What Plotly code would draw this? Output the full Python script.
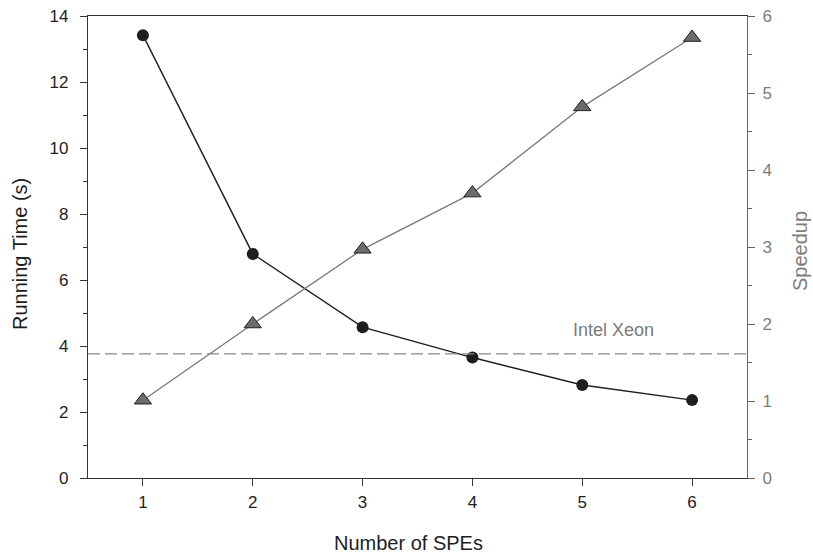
import plotly.graph_objects as go

spes = [1, 2, 3, 4, 5, 6]
running_time = [13.42, 6.79, 4.57, 3.65, 2.82, 2.36]
speedup = [1.01, 2.00, 2.97, 3.70, 4.82, 5.72]
xeon_time = 3.76
x_ticks = [1, 2, 3, 4, 5, 6]

FONT = "Liberation Sans, Arial, sans-serif"
DARK = "#1e1e1e"
GRAY = "#7d7d7d"

fig = go.Figure()
fig.add_trace(go.Scatter(
    x=spes, y=speedup, yaxis="y2", mode="lines+markers",
    line=dict(color="#7a7a7a", width=1.3),
    marker=dict(symbol="triangle-up", size=15, color="#6b6b6b",
                line=dict(color="#222222", width=1)),
    showlegend=False, cliponaxis=False))
fig.add_trace(go.Scatter(
    x=spes, y=running_time, mode="lines+markers",
    line=dict(color=DARK, width=1.4),
    marker=dict(symbol="circle", size=12, color=DARK),
    showlegend=False, cliponaxis=False))

fig.add_shape(type="line", xref="paper", x0=0, x1=1, yref="y", y0=xeon_time, y1=xeon_time,
              line=dict(color="#888888", width=1.1, dash="12px,5px"))
fig.add_annotation(x=5.28, y=4.48, xref="x", yref="y", text="Intel Xeon", showarrow=False,
                   xanchor="center", yanchor="middle",
                   font=dict(family=FONT, size=18, color="#7a7a7a"))

# axis titles
fig.add_annotation(x=0.487, y=-0.1407, xref="paper", yref="paper", text="Number of SPEs",
                   showarrow=False, xanchor="center", yanchor="middle",
                   font=dict(family=FONT, size=20, color=DARK))
fig.add_annotation(x=-0.1032, y=0.4848, xref="paper", yref="paper", text="Running Time (s)",
                   showarrow=False, textangle=-90, xanchor="center", yanchor="middle",
                   font=dict(family=FONT, size=20, color=DARK))
fig.add_annotation(x=1.0804, y=0.4913, xref="paper", yref="paper", text="Speedup",
                   showarrow=False, textangle=-90, xanchor="center", yanchor="middle",
                   font=dict(family=FONT, size=20, color=GRAY))

fig.update_layout(
    width=813, height=558,
    margin=dict(l=88, r=66, t=16, b=80),
    paper_bgcolor="white", plot_bgcolor="white",
    font=dict(family=FONT, size=17, color=DARK),
    xaxis=dict(range=[0.5, 6.5], tickvals=x_ticks, ticks="outside", ticklen=7,
               tickcolor="#333", showline=True, linecolor="#333", linewidth=1.3,
               mirror=True, showgrid=False, zeroline=False, automargin=False,
               ticklabelstandoff=1, tickfont=dict(size=17, color=DARK)),
    yaxis=dict(range=[0, 14], dtick=2, ticks="outside", ticklen=7, tickcolor="#333",
               showline=True, linecolor="#333", linewidth=1.3, showgrid=False,
               zeroline=False, automargin=False, ticklabelstandoff=8,
               ticklabeloverflow="allow",
               tickfont=dict(size=17, color=DARK),
               minor=dict(dtick=1, ticks="outside", ticklen=4, tickcolor="#333")),
    yaxis2=dict(range=[0, 6], dtick=1, overlaying="y", side="right", ticks="outside",
                ticklen=7, tickcolor="#666", showline=True, linecolor="#666", linewidth=1.3,
                showgrid=False, zeroline=False, automargin=False, ticklabelstandoff=4,
                ticklabeloverflow="allow",
                tickfont=dict(size=17, color=GRAY),
                minor=dict(dtick=0.5, ticks="outside", ticklen=4, tickcolor="#666")),
)

fig.write_html("out.html", config={"displayModeBar": False},
               post_script="document.body.style.margin='0';document.body.style.overflow='hidden';")
